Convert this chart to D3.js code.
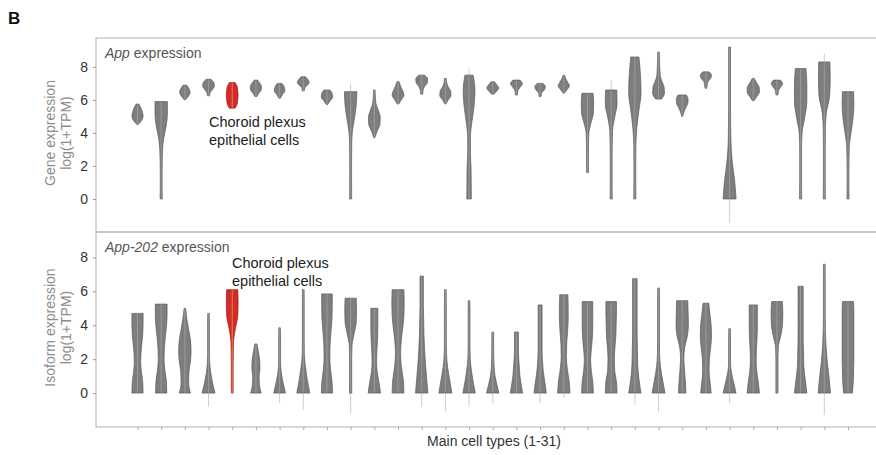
<!DOCTYPE html>
<html>
<head>
<meta charset="utf-8">
<script src="https://cdn.jsdelivr.net/npm/d3@7"></script>
<style>
  body { margin: 0; background: #fff; }
  text { font-family: "Liberation Sans", Arial, sans-serif; }
</style>
</head>
<body>
<svg id="chart" width="876" height="455"></svg>
<script>
// 31 main cell types, choroid plexus epithelial cells is #5
var cellTypes = d3.range(1, 32);
var highlight = 5;
var yTicks = [0, 2, 4, 6, 8];

// App gene expression: violin extent and width profile (bottom -> top, 0..1)
var geneLo = [4.5, 0, 6.0, 6.25, 5.5, 6.2, 6.1, 6.55, 5.7, 0, 3.7, 5.75, 6.35, 5.75, 0,
              6.35, 6.3, 6.2, 6.4, 1.6, 0, 0, 6.05, 5.0, 6.7, 0, 5.95, 6.3, 0, 0, 0];
var geneHi = [5.75, 5.9, 6.9, 7.25, 7.05, 7.2, 7.0, 7.4, 6.6, 6.5, 6.6, 7.1, 7.5, 7.3, 7.5,
              7.1, 7.2, 7.0, 7.5, 6.4, 6.6, 8.6, 8.9, 6.3, 7.7, 9.2, 7.3, 7.2, 7.9, 8.3, 6.5];
var geneShape = [
  [0, .6, .85, .75, .5, .15],
  [.1, .08, .08, .1, .15, .35, .75, .95, .95],
  [0, .5, .8, .6, .2],
  [.1, .2, .6, .9, .8, .3],
  [.4, .75, .85, .9, .85, .75, .4],
  [.1, .4, .8, .85, .6, .2],
  [.05, .4, .8, .7, .3],
  [.1, .15, .6, .9, .7, .3],
  [0, .4, .85, .8, .4],
  [.1, .08, .08, .08, .1, .2, .55, .85, .95],
  [0, .4, .85, .9, .6, .2, .1, .05],
  [.05, .5, .9, .7, .35, .1],
  [.1, .15, .4, .85, .9, .4],
  [0, .4, .85, .8, .4, .15, .08],
  [.3, .28, .25, .15, .15, .4, .75, .9, .6],
  [.1, .6, .9, .6, .2],
  [.1, .15, .5, .9, .5],
  [.1, .15, .6, .8, .4],
  [0, .45, .85, .6, .25, .05],
  [.08, .08, .08, .1, .15, .5, .9, .95, .85],
  [.1, .08, .08, .08, .1, .15, .5, .9, .85],
  [.1, .08, .08, .1, .25, .6, .95, .85, .6],
  [.4, .9, .85, .5, .2, .15, .1, .08, .05],
  [0, .2, .5, .85, .9, .6],
  [.05, .15, .25, .7, .85, .4],
  [1, .75, .35, .15, .1, .08, .08, .08, .08],
  [.05, .55, .95, .9, .5, .1],
  [.1, .15, .5, .85, .5],
  [.1, .08, .08, .08, .15, .6, .95, .95, .8],
  [.1, .08, .08, .08, .1, .25, .8, .9, .85],
  [.1, .08, .08, .1, .15, .45, .75, .9, .85]
];
// faint whiskers [cell type, from, to]
var geneWhiskers = [[10, 6.4, 7.0], [15, 7.4, 7.9], [21, 6.5, 7.2], [26, -1.45, 0], [30, 8.2, 8.8]];

// App-202 isoform expression: all violins start at 0
var isoHi = [4.7, 5.25, 5.0, 4.7, 6.1, 2.9, 3.85, 6.1, 5.85, 5.6, 5.0, 6.1, 6.9, 6.1, 5.45,
             3.6, 3.6, 5.2, 5.8, 5.4, 5.4, 6.75, 6.2, 5.45, 5.3, 3.8, 5.2, 5.4, 6.3, 7.6, 5.4];
var isoShape = [
  [.85, .8, .6, .45, .5, .65, .8, .85, .85],
  [.85, .8, .55, .4, .45, .6, .8, .9, .9],
  [.85, .55, .6, .85, .95, .85, .55, .25, .05],
  [1, .6, .3, .12, .08, .08, .08, .08, .05],
  [.08, .08, .08, .1, .15, .45, .85, .9, .85],
  [.8, .5, .45, .6, .55, .35, .1],
  [.9, .55, .25, .1, .08, .08, .08, .05],
  [1, .6, .3, .1, .08, .08, .08, .08, .06],
  [.85, .75, .5, .4, .45, .6, .75, .8, .8],
  [.12, .1, .1, .1, .15, .5, .85, .9, .85],
  [.95, .7, .4, .3, .35, .45, .5, .5, .5],
  [.9, .8, .5, .35, .45, .7, .9, .95, .9],
  [.95, .75, .55, .4, .3, .25, .2, .2, .2],
  [1, .65, .3, .12, .08, .08, .08, .08, .06],
  [.95, .6, .3, .12, .08, .08, .08, .08, .06],
  [.95, .6, .3, .15, .1, .08, .08, .06],
  [.95, .7, .5, .4, .3, .25, .25, .25],
  [.95, .7, .45, .3, .25, .25, .25, .25, .25],
  [.95, .8, .5, .35, .4, .55, .65, .65, .6],
  [.9, .8, .55, .45, .6, .75, .8, .8, .8],
  [.9, .8, .5, .45, .55, .7, .75, .8, .8],
  [.95, .6, .4, .35, .3, .3, .3, .3, .3],
  [1, .6, .25, .1, .08, .08, .08, .08, .06],
  [.55, .45, .3, .2, .35, .8, .95, .9, .85],
  [.8, .6, .45, .5, .7, .85, .8, .6, .4],
  [1, .65, .3, .1, .08, .08, .08, .05],
  [.95, .75, .5, .4, .45, .55, .6, .6, .6],
  [.1, .1, .1, .1, .15, .55, .85, .9, .8],
  [.95, .7, .45, .4, .35, .35, .35, .35, .35],
  [.95, .7, .4, .2, .1, .08, .08, .08, .06],
  [.65, .8, .85, .9, .9, .9, .9, .9, .85]
];
var isoWhiskers = [[4, -0.8, 0], [7, -0.6, 0], [8, -1.0, 0], [10, -1.2, 0], [13, -0.8, 0],
                   [14, -1.1, 0], [15, -0.8, 0], [16, -0.6, 0], [18, -0.6, 0], [19, -0.3, 0],
                   [22, -0.7, 0], [23, -1.1, 0], [26, -0.6, 0], [30, -1.3, 0]];

var svg = d3.select("#chart");
var left = 96, right = 880;

var x = d3.scalePoint().domain(cellTypes).range([137.5, 848]);
// half width of a violin in px, thin tails keep a visible body
var w = d3.scaleLinear().domain([0, 1]).range([0.45, 6.5]);

//draw one panel
function drawPanel(opt){
    var y = d3.scaleLinear().domain(opt.domain).range([opt.bottom, opt.top]);
    var g = svg.append("g");

    g.append("rect")
        .attr("x", left).attr("y", opt.top)
        .attr("width", right - left).attr("height", opt.bottom - opt.top)
        .attr("fill", "none").attr("stroke", "#bdbdbd").attr("stroke-width", 1.2);

    var yAxis = g.append("g")
        .attr("transform", "translate(" + left + ",0)")
        .call(d3.axisLeft(y).tickValues(yTicks).tickSize(3).tickPadding(5));
    yAxis.select(".domain").remove();
    yAxis.selectAll("line").attr("stroke", "#999");
    yAxis.selectAll("text").attr("font-size", 14).attr("fill", "#333")
        .style("font-family", "Liberation Sans, Arial, sans-serif");

    // whiskers behind violins
    g.selectAll(".whisk").data(opt.whiskers).enter().append("line")
        .attr("x1", function(d){ return x(d[0]); })
        .attr("x2", function(d){ return x(d[0]); })
        .attr("y1", function(d){ return y(d[1]); })
        .attr("y2", function(d){ return y(d[2]); })
        .attr("stroke", "#cfcfcf").attr("stroke-width", 1);

    var area = d3.area()
        .y(function(d){ return y(d.v); })
        .x0(function(d){ return d.cx - w(d.w); })
        .x1(function(d){ return d.cx + w(d.w); })
        .curve(d3.curveMonotoneY);

    cellTypes.forEach(function(c, i){
        var lo = opt.lo[i], hi = opt.hi[i], prof = opt.shape[i];
        var pts = prof.map(function(pw, k){
            return { v: lo + (hi - lo) * k / (prof.length - 1), w: pw, cx: x(c) };
        });
        var red = (c == highlight);
        g.append("path")
            .attr("d", area(pts))
            .attr("fill", red ? "#d42b28" : "#7e7e7e")
            .attr("stroke", red ? "#a51a18" : "#5a5a5a")
            .attr("stroke-width", 0.7);
        // light inner stripe
        g.append("line")
            .attr("x1", x(c)).attr("x2", x(c))
            .attr("y1", y(lo)).attr("y2", y(hi))
            .attr("stroke", red ? "#f0c060" : "#ffffff")
            .attr("stroke-opacity", red ? 0.6 : 0.22)
            .attr("stroke-width", 1);
    });

    // title inside panel
    var t = g.append("text")
        .attr("x", 105).attr("y", opt.top + 20)
        .attr("font-size", 14).attr("fill", "#555");
    t.append("tspan").attr("font-style", "italic").text(opt.gene);
    t.append("tspan").text(" expression");

    // y label
    var lab = g.append("text")
        .attr("transform", "translate(56," + ((opt.top + opt.bottom) / 2 - 2) + ") rotate(-90)")
        .attr("text-anchor", "middle").attr("font-size", 14).attr("fill", "#8c8c8c");
    lab.append("tspan").attr("x", 0).attr("dy", "-0.1em").text(opt.label);
    lab.append("tspan").attr("x", 0).attr("dy", "1.15em").text("log(1+TPM)");

    // annotation
    var ann = g.append("text")
        .attr("x", opt.annX).attr("y", opt.annY)
        .attr("font-size", 14.5).attr("fill", "#222");
    ann.append("tspan").attr("x", opt.annX).text("Choroid plexus");
    ann.append("tspan").attr("x", opt.annX).attr("dy", 17.5).text("epithelial cells");

    return y;
}

drawPanel({
    top: 38, bottom: 232, domain: [-2, 9.75],
    lo: geneLo, hi: geneHi, shape: geneShape, whiskers: geneWhiskers,
    gene: "App", label: "Gene expression", annX: 209, annY: 127
});

drawPanel({
    top: 232, bottom: 427, domain: [-2, 9.5],
    lo: cellTypes.map(function(){ return 0; }), hi: isoHi, shape: isoShape, whiskers: isoWhiskers,
    gene: "App-202", label: "Isoform expression", annX: 232, annY: 268
});

// bottom ticks for the cell types
var xAxis = svg.append("g")
    .attr("transform", "translate(0,427)")
    .call(d3.axisBottom(x).tickSize(3).tickFormat(""));
xAxis.select(".domain").remove();
xAxis.selectAll("line").attr("stroke", "#aaa");

svg.append("text")
    .attr("x", 494).attr("y", 446)
    .attr("text-anchor", "middle").attr("font-size", 14).attr("fill", "#333")
    .text("Main cell types (1-31)");

svg.append("text")
    .attr("x", 8).attr("y", 24)
    .attr("font-size", 17).attr("font-weight", "bold").attr("fill", "#111")
    .text("B");
</script>
</body>
</html>
